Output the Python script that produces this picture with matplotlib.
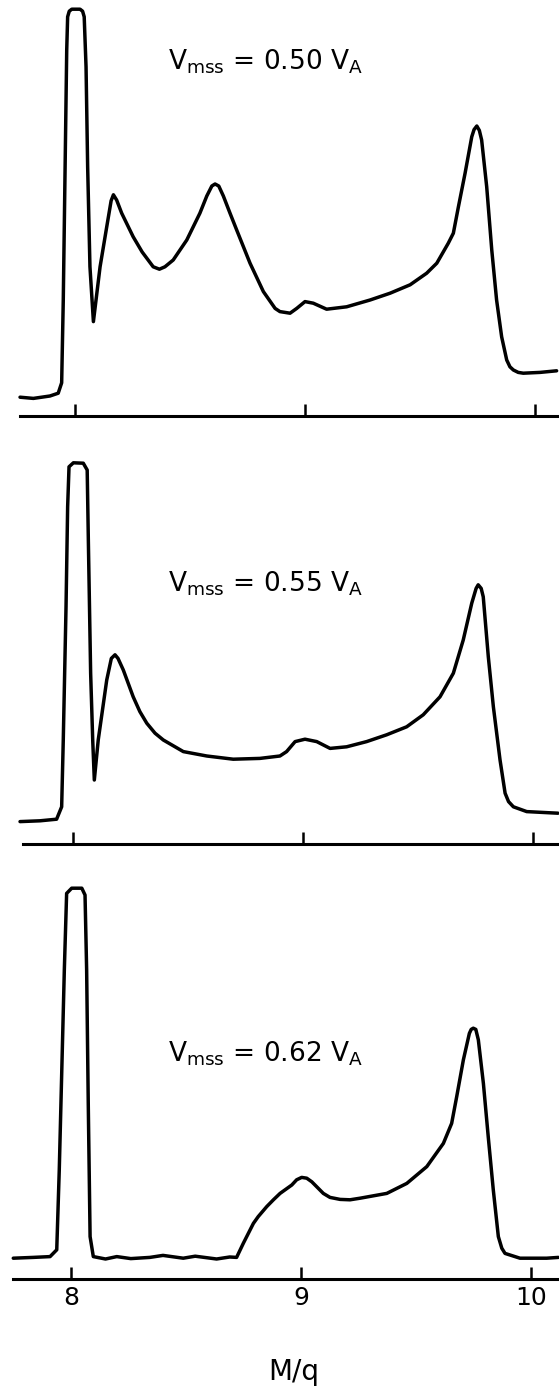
import matplotlib
matplotlib.use("Agg")
import matplotlib.pyplot as plt

# M/q spectra at three values of the mass-selector voltage (V_mss / V_A)
vmss_labels = ["0.50", "0.55", "0.62"]

mq_050 = [7.761, 7.819, 7.891, 7.927, 7.942, 7.949, 7.957, 7.964, 7.968, 7.975,
          7.986, 8.022, 8.033, 8.040, 8.048, 8.055, 8.065, 8.080, 8.109, 8.138,
          8.157, 8.167, 8.181, 8.203, 8.253, 8.292, 8.340, 8.367, 8.391, 8.427,
          8.486, 8.543, 8.573, 8.595, 8.609, 8.625, 8.645, 8.674, 8.703, 8.761,
          8.819, 8.870, 8.891, 8.935, 8.964, 9.000, 9.036, 9.094, 9.181, 9.283,
          9.370, 9.457, 9.529, 9.573, 9.623, 9.645, 9.667, 9.696, 9.725, 9.735,
          9.747, 9.758, 9.768, 9.790, 9.812, 9.833, 9.855, 9.877, 9.891, 9.906,
          9.927, 9.949, 10.022, 10.094]
sig_050 = [4.7, 4.4, 5.0, 5.7, 8.3, 29.0, 62.3, 91.5, 99.8, 101.2,
           101.7, 101.7, 101.2, 99.8, 87.3, 62.3, 37.3, 23.6, 37.3, 47.3,
           53.8, 55.3, 54.0, 50.7, 44.8, 41.0, 37.3, 36.7, 37.3, 39.0,
           44.0, 50.7, 55.0, 57.5, 58.0, 57.5, 55.0, 50.7, 46.5, 38.2,
           31.1, 26.9, 26.1, 25.7, 26.9, 28.6, 28.2, 26.7, 27.3, 29.0,
           30.7, 32.8, 35.7, 38.2, 43.2, 45.7, 52.3, 60.7, 69.8, 71.6,
           72.5, 71.4, 69.0, 57.3, 41.5, 29.0, 19.8, 14.0, 12.3, 11.5,
           10.9, 10.7, 10.9, 11.3]

mq_055 = [7.771, 7.858, 7.930, 7.952, 7.959, 7.971, 7.978, 7.984, 8.003, 8.046,
          8.063, 8.068, 8.078, 8.087, 8.094, 8.111, 8.148, 8.168, 8.184, 8.197,
          8.220, 8.263, 8.292, 8.322, 8.358, 8.394, 8.481, 8.583, 8.698, 8.814,
          8.901, 8.930, 8.967, 9.010, 9.061, 9.119, 9.191, 9.278, 9.365, 9.452,
          9.524, 9.597, 9.655, 9.698, 9.735, 9.754, 9.763, 9.776, 9.785, 9.807,
          9.829, 9.858, 9.880, 9.895, 9.916, 9.974, 10.075, 10.110]
sig_055 = [5.6, 5.8, 6.2, 9.3, 26.0, 59.3, 84.3, 94.3, 95.3, 95.2,
           93.5, 76.0, 42.7, 26.0, 16.0, 26.0, 41.0, 46.4, 47.3, 46.4,
           43.5, 36.8, 33.1, 30.2, 27.7, 26.0, 23.1, 22.0, 21.2, 21.4,
           22.0, 23.1, 25.6, 26.2, 25.6, 23.9, 24.3, 25.6, 27.3, 29.3,
           32.3, 36.8, 42.7, 51.0, 60.2, 63.9, 64.8, 63.9, 61.8, 46.8,
           34.3, 21.0, 12.7, 10.6, 9.3, 8.1, 7.8, 7.7]

mq_062 = [7.749, 7.836, 7.909, 7.938, 7.949, 7.960, 7.971, 7.981, 8.003, 8.047,
          8.061, 8.068, 8.075, 8.083, 8.097, 8.150, 8.199, 8.260, 8.343, 8.400,
          8.488, 8.540, 8.633, 8.690, 8.720, 8.749, 8.793, 8.814, 8.851, 8.880,
          8.909, 8.960, 8.981, 9.003, 9.025, 9.047, 9.097, 9.126, 9.170, 9.213,
          9.257, 9.373, 9.460, 9.547, 9.619, 9.655, 9.677, 9.706, 9.732, 9.740,
          9.749, 9.760, 9.771, 9.793, 9.814, 9.836, 9.858, 9.873, 9.887, 9.952,
          10.068, 10.119]
sig_062 = [5.2, 5.4, 5.6, 7.3, 27.3, 52.3, 77.3, 96.4, 97.7, 97.7,
           96.0, 77.3, 44.0, 10.6, 5.6, 5.0, 5.6, 5.1, 5.4, 5.9,
           5.2, 5.7, 5.0, 5.5, 5.4, 8.9, 13.9, 15.6, 18.1, 19.8,
           21.4, 23.5, 24.8, 25.4, 25.2, 24.3, 21.4, 20.4, 19.9, 19.8,
           20.2, 21.4, 23.9, 28.1, 33.9, 38.9, 45.6, 54.8, 61.4, 62.4,
           62.7, 62.4, 59.8, 48.9, 35.6, 22.3, 10.6, 7.7, 6.4, 5.2,
           5.2, 5.4]

spectra = [(mq_050, sig_050), (mq_055, sig_055), (mq_062, sig_062)]
mq_ticks = [8, 9, 10]
mq_ticklabels = ["8", "9", "10"]

W, H = 559, 1393
PX_PER_UNIT = 4.0  # pixels per signal unit

# panel layout in pixels: (top, axis line, x of tick 8, left end of axis line, label baseline)
panels = [(0, 416, 75, 20, 70),
          (440, 844, 72.7, 23, 591),
          (870, 1279, 71, 13, 1061)]

fig = plt.figure(figsize=(W / 100, H / 100), dpi=100)
fig.patch.set_facecolor("white")

for i, ((mq, sig), (top, axis_y, x8, x_left, lab_y)) in enumerate(zip(spectra, panels)):
    ax = fig.add_axes([0, 1 - axis_y / H, 1, (axis_y - top) / H])
    xmin = 8 - x8 / 230
    xmax = 8 + (W - x8) / 230
    ax.set_xlim(xmin, xmax)
    ax.set_ylim(0, (axis_y - top) / PX_PER_UNIT)
    ax.plot(mq, sig, color="black", lw=2.5, solid_joinstyle="round",
            solid_capstyle="round", clip_on=False)

    for s in ["top", "left", "right"]:
        ax.spines[s].set_visible(False)
    ax.spines["bottom"].set_linewidth(2.2)
    ax.spines["bottom"].set_bounds(8 - (x8 - x_left) / 230, xmax)
    ax.set_yticks([])
    ax.set_xticks(mq_ticks)
    ax.tick_params(axis="x", direction="in", length=9, width=1.8, pad=5,
                   labelsize=18)
    if i == 2:
        ax.set_xticklabels(mq_ticklabels)
    else:
        ax.set_xticklabels([])
    ax.patch.set_alpha(0)

    fig.text(168 / W, 1 - lab_y / H,
             r"$\mathregular{V_{mss}}$ = " + vmss_labels[i] + r" $\mathregular{V_A}$",
             fontsize=19, ha="left", va="baseline")

fig.text(294 / W, 1 - 1380 / H, "M/q", fontsize=20, ha="center", va="baseline")

fig.savefig("out.png", dpi=100)
